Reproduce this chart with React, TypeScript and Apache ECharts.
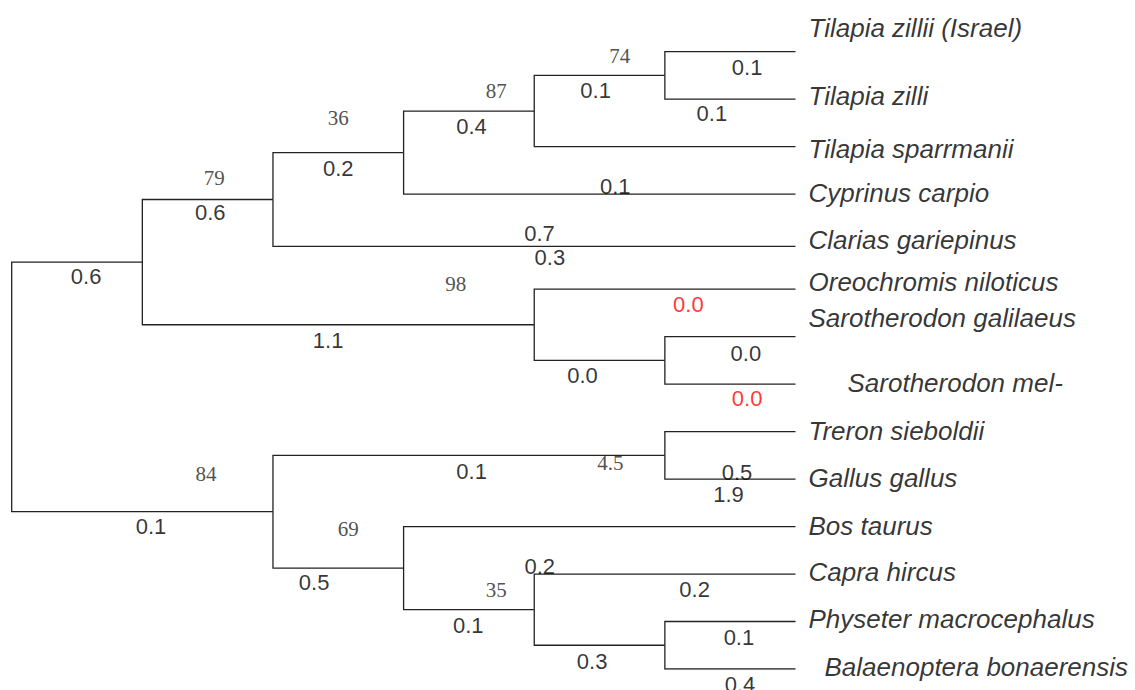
import React, { useEffect, useRef } from "react";
import * as echarts from "echarts";

// ---------- data ----------
const tipNames = [
  "Tilapia zillii (Israel)",
  "Tilapia zilli",
  "Tilapia sparrmanii",
  "Cyprinus carpio",
  "Clarias gariepinus",
  "Oreochromis niloticus",
  "Sarotherodon galilaeus",
  "Sarotherodon mel-",
  "Treron sieboldii",
  "Gallus gallus",
  "Bos taurus",
  "Capra hircus",
  "Physeter macrocephalus",
  "Balaenoptera bonaerensis",
];
const tipRows = [0, 1, 2, 3, 4.1, 5, 6, 7, 8, 9, 10, 11, 12, 13];
const tipDepth = 6;

// internal nodes (children listed before parents)
const nodeIds = ["E", "D", "C", "B", "F", "O", "A", "H", "K", "J", "I", "G", "R"];
const nodeDepths = [5, 4, 3, 2, 5, 4, 1, 5, 5, 4, 3, 2, 0];
const nodeChildren = [
  ["t0", "t1"],
  ["E", "t2"],
  ["D", "t3"],
  ["C", "t4"],
  ["t6", "t7"],
  ["t5", "F"],
  ["B", "O"],
  ["t8", "t9"],
  ["t12", "t13"],
  ["t11", "K"],
  ["t10", "J"],
  ["H", "I"],
  ["A", "G"],
];

// bootstrap support values, attached to the branch leading to a node
const supportNodes = ["E", "D", "C", "B", "O", "G", "I", "J", "H"];
const supportValues = ["74", "87", "36", "79", "98", "84", "69", "35", "4.5"];

// branch length labels, attached to the branch leading to a node
const lengthBranches = [
  "t0", "t1", "E", "D", "C", "t3", "B", "t4", "t4", "A", "O", "t5", "F",
  "t6", "t7", "G", "H", "t9", "t9", "I", "J", "t11", "t11", "K", "t12", "t13",
];
const lengthValues = [
  "0.1", "0.1", "0.1", "0.4", "0.2", "0.1", "0.6", "0.7", "0.3", "0.6", "1.1", "0.0", "0.0",
  "0.0", "0.0", "0.1", "0.1", "0.5", "1.9", "0.5", "0.1", "0.2", "0.2", "0.3", "0.1", "0.4",
];

// ---------- layout / style ----------
const tipLabelDx = [12.5, 12.5, 12.5, 12.5, 12.5, 12.5, 12.5, 51.5, 12.5, 12.5, 12.5, 12.5, 12.5, 28.5];
const tipLabelDy = [-24.2, -3.2, 2.8, -1, -6.4, -7.4, -18.6, -1, -0.5, -1.5, -0.5, -2, -2.5, -2];
const lengthLabelT = [
  0.63, 0.36, 0.47, 0.52, 0.5, 0.54, 0.52, 0.51, 0.53, 0.57, 0.474, 0.59, 0.37,
  0.62, 0.63, 0.533, 0.507, 0.552, 0.487, 0.315, 0.495, 0.021, 0.614, 0.443, 0.567, 0.575,
];
const lengthLabelDy = [
  15.8, 14.8, 15.5, 15, 16, -8, 12.6, -12.4, 11.6, 14.7, 15.8, 15.4, 15.2,
  16.4, 14.9, 14.8, 16.4, -6.5, 15.5, 14.9, 15.4, -8, 15, 15.8, 15.5, 15.5,
];
const supportLabelT = [0.655, 0.71, 0.5, 0.55, 0.8, 0.744, 0.576, 0.71, 0.861];
const supportLabelDy = [-19.3, -20, -35, -21.4, -40.7, -37.7, -39.1, -19.6, 8];
const redLengthLabels = [11, 14];

function buildTree() {
  const depth: Record<string, number> = {};
  const row: Record<string, number> = {};
  const parent: Record<string, string> = {};
  tipNames.forEach((_, i) => {
    depth["t" + i] = tipDepth;
    row["t" + i] = tipRows[i];
  });
  nodeIds.forEach((id, i) => {
    depth[id] = nodeDepths[i];
    nodeChildren[i].forEach((c) => (parent[c] = id));
  });
  nodeIds.forEach((id, i) => {
    const ch = nodeChildren[i];
    row[id] = (row[ch[0]] + row[ch[ch.length - 1]]) / 2;
  });
  return { depth, row, parent };
}

function branchPoint(tree: ReturnType<typeof buildTree>, child: string, t: number) {
  const p = tree.parent[child];
  const x = tree.depth[p] + t * (tree.depth[child] - tree.depth[p]);
  return [x, tree.row[child]];
}

export default function App() {
  const ref = useRef<HTMLDivElement>(null);
  useEffect(() => {
    if (!ref.current) return;
    const chart = echarts.init(ref.current, undefined, { renderer: "svg" });
    const tree = buildTree();

    const branches: any[] = [];
    Object.keys(tree.parent).forEach((c) => {
      const p = tree.parent[c];
      branches.push({
        coords: [
          [tree.depth[p], tree.row[p]],
          [tree.depth[p], tree.row[c]],
          [tree.depth[c], tree.row[c]],
        ],
      });
    });

    const tipData = tipNames.map((name, i) => ({
      value: [tipDepth, tipRows[i]],
      name,
      label: { offset: [tipLabelDx[i], tipLabelDy[i]] },
    }));

    const lengthData = lengthValues.map((v, i) => ({
      value: branchPoint(tree, lengthBranches[i], lengthLabelT[i]),
      name: v,
      label: {
        offset: [0, lengthLabelDy[i]],
        color: redLengthLabels.includes(i) ? "#ff0000" : "#000000",
      },
    }));

    const supportData = supportValues.map((v, i) => ({
      value: branchPoint(tree, supportNodes[i], supportLabelT[i]),
      name: v,
      label: { offset: [0, supportLabelDy[i]] },
    }));

    chart.setOption({
      animation: false,
      backgroundColor: "#ffffff",
      grid: { left: 11.7, right: 339.5, top: 51.7, bottom: 21 },
      xAxis: { type: "value", min: 0, max: 6, show: false },
      yAxis: { type: "value", min: 0, max: 13, inverse: true, show: false },
      series: [
        {
          type: "lines",
          coordinateSystem: "cartesian2d",
          polyline: true,
          silent: true,
          lineStyle: { color: "#222222", width: 1.3, opacity: 1 },
          data: branches,
        },
        {
          type: "scatter",
          symbolSize: 1,
          itemStyle: { color: "transparent" },
          silent: true,
          label: {
            show: true,
            position: "right",
            distance: 0,
            formatter: (p: any) => p.name,
            fontFamily: "'Liberation Sans', Arial, sans-serif",
            fontStyle: "italic",
            fontSize: 26,
            color: "#000000",
            textBorderWidth: 0,
            align: "left",
            verticalAlign: "middle",
          },
          data: tipData,
        },
        {
          type: "scatter",
          symbolSize: 1,
          itemStyle: { color: "transparent" },
          silent: true,
          label: {
            show: true,
            position: "inside",
            formatter: (p: any) => p.name,
            fontFamily: "'Liberation Sans', Arial, sans-serif",
            fontSize: 22,
            textBorderWidth: 0,
            align: "center",
            verticalAlign: "middle",
          },
          data: lengthData,
        },
        {
          type: "scatter",
          symbolSize: 1,
          itemStyle: { color: "transparent" },
          silent: true,
          label: {
            show: true,
            position: "inside",
            formatter: (p: any) => p.name,
            fontFamily: "'Liberation Serif', 'Times New Roman', serif",
            fontSize: 21,
            color: "#222222",
            textBorderWidth: 0,
            align: "center",
            verticalAlign: "middle",
          },
          data: supportData,
        },
      ],
    });
    return () => chart.dispose();
  }, []);

  return (
    <div
      ref={ref}
      style={{ position: "absolute", left: 0, top: 0, width: 1135, height: 690, background: "#fff" }}
    />
  );
}
